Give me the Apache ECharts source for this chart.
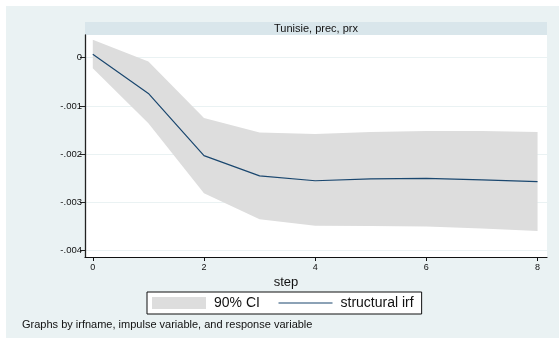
<!DOCTYPE html>
<html>
<head>
<meta charset="utf-8">
<script src="https://cdn.jsdelivr.net/npm/echarts@6/dist/echarts.min.js"></script>
<style>
  html, body { margin: 0; padding: 0; background: #ffffff; }
  #chart { width: 559px; height: 338px; }
</style>
</head>
<body>
<div id="chart"></div>
<script>
// Impulse response: Tunisie, impulse prec, response prx
const steps = [0, 1, 2, 3, 4, 5, 6, 7, 8];
const irf = [0.00007, -0.00074, -0.00203, -0.00245, -0.00255, -0.00251, -0.00250, -0.00253, -0.00257];
const ciUpper = [0.00037, -0.00008, -0.00125, -0.00155, -0.00158, -0.00154, -0.00152, -0.00152, -0.00154];
const ciLower = [-0.00022, -0.00136, -0.00281, -0.00335, -0.00348, -0.00349, -0.00350, -0.00354, -0.00359];
const yTicks = [0, -0.001, -0.002, -0.003, -0.004];
const xTicks = [0, 2, 4, 6, 8];

const FONT = '"Liberation Sans", Arial, Helvetica, sans-serif';

// Stata-style numbers: drop the leading zero ("-.001")
function stataNum(v) {
  if (Math.abs(v) < 1e-12) return '0';
  let s = String(+v.toFixed(6));
  return s.replace(/^(-?)0\./, '$1.');
}

const chart = echarts.init(document.getElementById('chart'), null, { renderer: 'canvas' });

chart.setOption({
  animation: false,
  backgroundColor: '#ffffff',
  textStyle: { fontFamily: FONT },
  graphic: [
    { type: 'rect', z: -10, shape: { x: 6, y: 6, width: 553, height: 332 }, style: { fill: '#eaf2f3' } },
    { type: 'rect', z: -5, shape: { x: 85, y: 22, width: 462, height: 13 }, style: { fill: '#d9e6eb' } }
  ],
  title: [
    { text: 'Tunisie, prec, prx', left: 316, top: 22, textAlign: 'center', padding: 0,
      textStyle: { fontFamily: FONT, fontSize: 11, fontWeight: 'normal', color: '#111', lineHeight: 13 } },
    { text: 'step', left: 286, top: 276, textAlign: 'center', padding: 0,
      textStyle: { fontFamily: FONT, fontSize: 13, fontWeight: 'normal', color: '#111' } },
    { text: 'Graphs by irfname, impulse variable, and response variable', left: 22, top: 319, padding: 0,
      textStyle: { fontFamily: FONT, fontSize: 11, fontWeight: 'normal', color: '#111' } }
  ],
  legend: {
    left: 147, top: 292,
    orient: 'horizontal',
    backgroundColor: '#ffffff',
    borderColor: '#111111',
    borderWidth: 1,
    borderRadius: 0,
    padding: [4, 8, 4, 5],
    itemWidth: 54,
    itemHeight: 12,
    itemGap: 18,
    textStyle: { fontFamily: FONT, fontSize: 14, color: '#111', padding: [0, 0, 0, 3] },
    data: [
      { name: '90% CI', icon: 'rect', itemStyle: { color: '#dddddd' } },
      { name: 'structural irf', itemStyle: { opacity: 0 }, lineStyle: { color: '#1a476f', width: 1.2 } }
    ]
  },
  grid: {
    left: 85, right: 12, top: 35, bottom: 81,
    show: true, backgroundColor: '#ffffff', borderWidth: 0,
    containLabel: false
  },
  xAxis: {
    type: 'value',
    min: -0.14, max: 8.17,
    axisLine: { show: true, onZero: false, lineStyle: { color: '#111', width: 1.2 } },
    axisTick: { show: true, length: 4, customValues: xTicks, lineStyle: { color: '#111' } },
    axisLabel: { customValues: xTicks, fontSize: 9, color: '#111', margin: 6, fontFamily: FONT },
    splitLine: { show: false }
  },
  yAxis: {
    type: 'value',
    min: -0.00413, max: 0.00047,
    axisLine: { show: true, onZero: false, lineStyle: { color: '#222', width: 1.3 } },
    axisTick: { show: true, length: 5, customValues: yTicks, lineStyle: { color: '#222' } },
    axisLabel: { customValues: yTicks, fontSize: 9.5, color: '#111', margin: 3, fontFamily: FONT,
      formatter: stataNum },
    splitLine: { show: true, lineStyle: { color: '#eaf2f3', width: 1 } }
  },
  series: [
    {
      name: '90% CI',
      type: 'custom',
      data: steps.map((s, i) => [s, ciUpper[i], ciLower[i]]),
      clip: true,
      z: 2,
      renderItem: function (params, api) {
        if (params.dataIndex !== 0) return null;
        const pts = [];
        for (let i = 0; i < steps.length; i++) pts.push(api.coord([steps[i], ciUpper[i]]));
        for (let i = steps.length - 1; i >= 0; i--) pts.push(api.coord([steps[i], ciLower[i]]));
        return { type: 'polygon', shape: { points: pts }, style: { fill: '#dddddd' } };
      },
      itemStyle: { color: '#dddddd' }
    },
    {
      name: 'structural irf',
      type: 'line',
      data: steps.map((s, i) => [s, irf[i]]),
      symbol: 'none',
      z: 3,
      lineStyle: { color: '#1a476f', width: 1.2 },
      itemStyle: { color: '#1a476f' }
    }
  ]
});
</script>
</body>
</html>
